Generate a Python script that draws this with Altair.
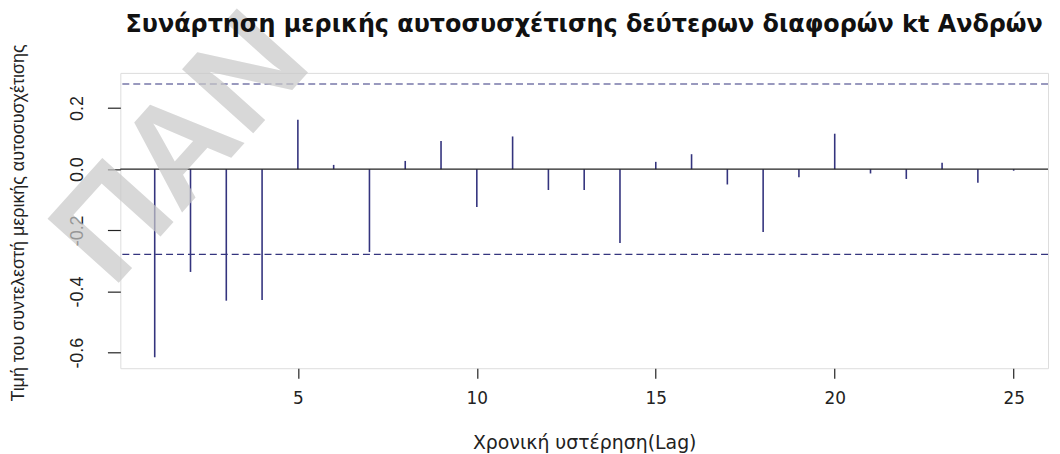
import altair as alt
import pandas as pd

# ---- data ----
lags = list(range(1, 26))
pacf = [-0.615, -0.336, -0.430, -0.428, 0.162, 0.014, -0.271, 0.027, 0.092, -0.124,
        0.107, -0.068, -0.068, -0.241, 0.024, 0.049, -0.050, -0.205, -0.026, 0.116,
        -0.014, -0.032, 0.021, -0.044, -0.005]
conf_bound = 0.2785
x_ticks = [5, 10, 15, 20, 25]
y_ticks = [-0.6, -0.4, -0.2, 0.0, 0.2]

title_text = ["Συνάρτηση μερικής αυτοσυσχέτισης δεύτερων διαφορών kt Ανδρών"]
x_title = "Χρονική υστέρηση(Lag)"
y_title = "Τιμή του συντελεστή μερικής αυτοσυσχέτισης"
watermark = ["ΠΑΝ"]

df = pd.DataFrame({"lag": lags, "pacf": pacf})
df["base"] = 0.0
bounds_df = pd.DataFrame({"b": [conf_bound, -conf_bound]})
zero_df = pd.DataFrame({"z": [0.0]})
wm_df = pd.DataFrame({"t": watermark})
title_df = pd.DataFrame({"t": title_text})

W, H = 933, 297
xscale = alt.Scale(domain=[0.04, 25.96], nice=False, zero=False)
yscale = alt.Scale(domain=[-0.6508, 0.3148], nice=False, zero=False)

lab_expr = "datum.value < 0 ? '-' + format(-datum.value, '.1f') : format(datum.value, '.1f')"

xaxis = alt.Axis(values=x_ticks, title=x_title, grid=False, domain=False,
                 tickSize=10, tickColor="#222", tickWidth=1.2,
                 labelFont="DejaVu Sans", labelFontSize=17, labelColor="#222",
                 labelPadding=20, labelBaseline="middle", labelAngle=0,
                 titleFont="DejaVu Sans", titleFontSize=19, titleFontWeight="normal",
                 titleColor="#222", titleY=81, titleBaseline="alphabetic")
yaxis = alt.Axis(values=y_ticks, title=y_title, grid=False, domain=False,
                 tickSize=13, tickColor="#222", tickWidth=1.2,
                 labelExpr=lab_expr,
                 labelFont="Liberation Sans", labelFontSize=18, labelColor="#222",
                 labelAngle=270, labelAlign="center", labelBaseline="middle",
                 labelPadding=30,
                 titleFont="Liberation Sans", titleFontSize=18, titleFontWeight="normal",
                 titleColor="#222", titleAngle=270, titleX=-102, titleY=H / 2 + 2,
                 titleAlign="center", titleBaseline="middle")

wm = alt.Chart(wm_df).mark_text(
    font="Liberation Sans", fontWeight="bold", fontSize=140, color="#c8c8c8",
    opacity=0.7, angle=312, align="left", baseline="alphabetic"
).encode(text="t:N", x=alt.value(-8), y=alt.value(218))

spikes = alt.Chart(df).mark_rule(color="#34347e", strokeWidth=1.6).encode(
    x=alt.X("lag:Q", scale=xscale, axis=xaxis),
    y=alt.Y("base:Q", scale=yscale, axis=yaxis),
    y2="pacf:Q",
)

zero = alt.Chart(zero_df).mark_rule(color="#222", strokeWidth=1.3).encode(
    y=alt.Y("z:Q", scale=yscale)
)

bounds = alt.Chart(bounds_df).mark_rule(color="#34347e", strokeWidth=1.2,
                                        strokeDash=[7, 4]).encode(
    y=alt.Y("b:Q", scale=yscale)
)

title = alt.Chart(title_df).mark_text(
    font="DejaVu Sans", fontWeight="bold", fontSize=24, color="#111",
    align="center", baseline="alphabetic"
).encode(text="t:N", x=alt.value(W / 2), y=alt.value(-41))

chart = alt.layer(spikes, zero, bounds, wm, title).properties(
    width=W, height=H,
    autosize=alt.AutoSizeParams(type="none"),
    padding={"left": 113, "top": 64, "right": 4, "bottom": 85},
).configure_view(stroke="#333", strokeWidth=1.3).configure(background="white")

chart.save("out.html", embed_options={"renderer": "svg", "actions": False})
